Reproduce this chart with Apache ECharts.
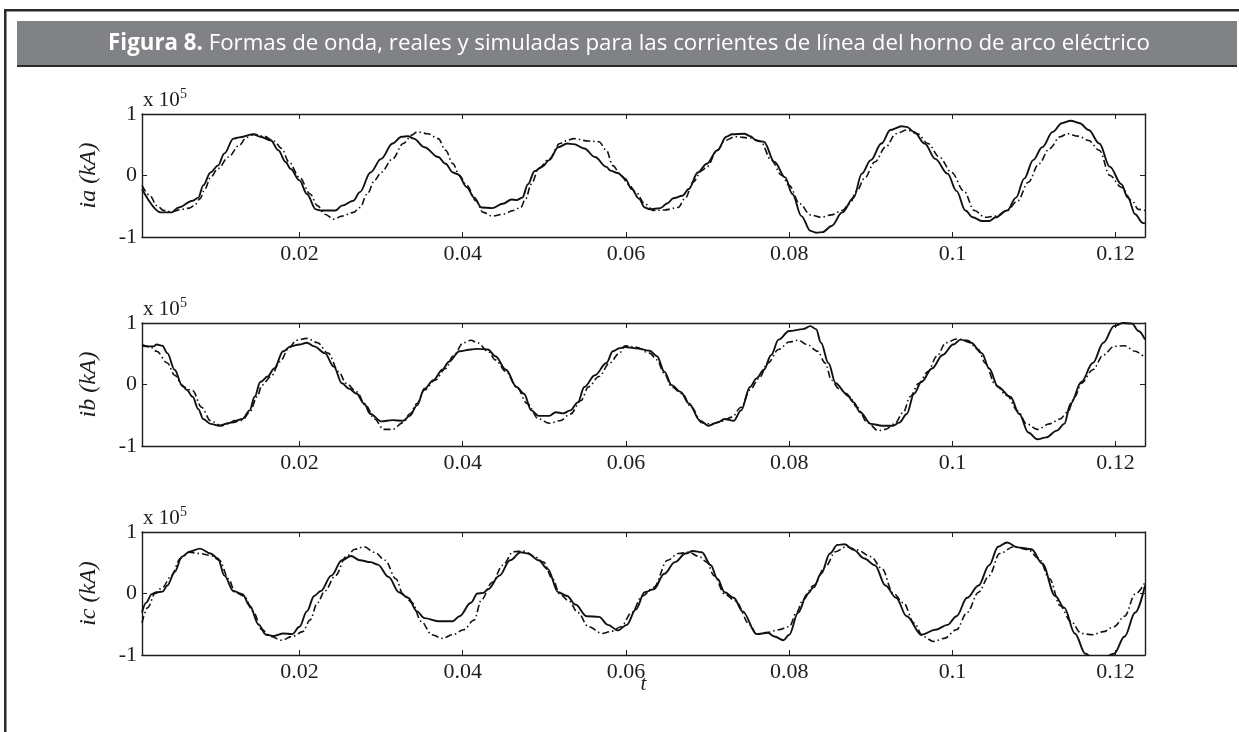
<!DOCTYPE html>
<html>
<head>
<meta charset="utf-8">
<script src="https://cdn.jsdelivr.net/npm/echarts@6/dist/echarts.min.js"></script>
<style>
html,body{margin:0;padding:0;background:#fff;}
#chart{width:1239px;height:732px;}
</style>
</head>
<body>
<div id="chart"></div>
<script>
// ---------------- DATA ----------------
const titleBold = 'Figura 8.';
const titleRest = ' Formas de onda, reales y simuladas para las corrientes de línea del horno de arco eléctrico';
const panelNames = ['ia (kA)', 'ib (kA)', 'ic (kA)'];
const xAxisName = 't';
const xTickValues = [0.02, 0.04, 0.06, 0.08, 0.1, 0.12];
const xTickLabels = ['0.02', '0.04', '0.06', '0.08', '0.1', '0.12'];
const yTickLabels = ['-1', '0', '1'];
const xRange = [0.0007, 0.1236];
const yRange = [-1, 1];

// real (solid) and simulated (dash-dot) line currents, x 10^5, pairs [t, value]
const iaReal = [[0.0007,-0.22],[0.0030,-0.60],[0.0043,-0.60],[0.0052,-0.52],[0.0069,-0.41],[0.0076,-0.36],[0.0082,-0.16],[0.0091,0.05],[0.0100,0.16],[0.0108,0.36],[0.0119,0.60],[0.0126,0.62],[0.0143,0.67],[0.0152,0.63],[0.0165,0.57],[0.0174,0.41],[0.0183,0.22],[0.0189,0.11],[0.0200,-0.08],[0.0209,-0.30],[0.0220,-0.55],[0.0226,-0.57],[0.0244,-0.57],[0.0252,-0.49],[0.0266,-0.41],[0.0274,-0.27],[0.0287,0.05],[0.0300,0.27],[0.0314,0.52],[0.0325,0.63],[0.0333,0.64],[0.0340,0.60],[0.0353,0.46],[0.0370,0.30],[0.0379,0.19],[0.0388,0.05],[0.0394,0.02],[0.0405,-0.19],[0.0414,-0.36],[0.0423,-0.52],[0.0436,-0.53],[0.0449,-0.46],[0.0460,-0.39],[0.0466,-0.40],[0.0473,-0.36],[0.0480,-0.14],[0.0488,0.07],[0.0497,0.14],[0.0506,0.25],[0.0517,0.46],[0.0528,0.52],[0.0536,0.51],[0.0549,0.44],[0.0562,0.30],[0.0576,0.14],[0.0581,0.08],[0.0590,0.04],[0.0599,-0.05],[0.0607,-0.22],[0.0616,-0.38],[0.0623,-0.52],[0.0629,-0.55],[0.0642,-0.53],[0.0651,-0.45],[0.0658,-0.37],[0.0669,-0.33],[0.0677,-0.22],[0.0688,0.05],[0.0699,0.19],[0.0712,0.41],[0.0723,0.63],[0.0730,0.67],[0.0745,0.68],[0.0752,0.64],[0.0760,0.57],[0.0769,0.55],[0.0782,0.22],[0.0795,-0.03],[0.0804,-0.30],[0.0815,-0.66],[0.0826,-0.90],[0.0833,-0.93],[0.0841,-0.92],[0.0852,-0.82],[0.0865,-0.60],[0.0879,-0.36],[0.0889,0.03],[0.0900,0.25],[0.0913,0.52],[0.0924,0.74],[0.0938,0.80],[0.0944,0.79],[0.0953,0.71],[0.0966,0.52],[0.0979,0.27],[0.0994,0.03],[0.1005,-0.25],[0.1016,-0.57],[0.1025,-0.68],[0.1036,-0.74],[0.1045,-0.74],[0.1053,-0.68],[0.1067,-0.57],[0.1078,-0.36],[0.1088,-0.05],[0.1099,0.25],[0.1110,0.46],[0.1123,0.71],[0.1134,0.85],[0.1145,0.89],[0.1156,0.85],[0.1167,0.74],[0.1180,0.52],[0.1193,0.14],[0.1207,-0.14],[0.1215,-0.36],[0.1224,-0.63],[0.1233,-0.77],[0.1236,-0.78]];
const iaSim = [[0.0007,-0.16],[0.0017,-0.33],[0.0025,-0.49],[0.0034,-0.57],[0.0043,-0.59],[0.0056,-0.55],[0.0065,-0.53],[0.0071,-0.49],[0.0078,-0.38],[0.0084,-0.22],[0.0091,-0.03],[0.0100,0.11],[0.0113,0.30],[0.0126,0.49],[0.0135,0.62],[0.0145,0.67],[0.0156,0.64],[0.0169,0.56],[0.0178,0.44],[0.0187,0.22],[0.0200,-0.03],[0.0213,-0.30],[0.0222,-0.49],[0.0231,-0.63],[0.0242,-0.71],[0.0252,-0.66],[0.0266,-0.60],[0.0274,-0.52],[0.0283,-0.30],[0.0292,-0.08],[0.0300,0.05],[0.0314,0.27],[0.0327,0.52],[0.0338,0.66],[0.0344,0.71],[0.0357,0.68],[0.0370,0.60],[0.0379,0.41],[0.0388,0.19],[0.0396,0.00],[0.0405,-0.16],[0.0416,-0.41],[0.0425,-0.60],[0.0436,-0.66],[0.0449,-0.63],[0.0462,-0.57],[0.0471,-0.52],[0.0477,-0.38],[0.0484,-0.14],[0.0493,0.11],[0.0506,0.27],[0.0519,0.52],[0.0528,0.57],[0.0536,0.60],[0.0554,0.56],[0.0567,0.55],[0.0576,0.41],[0.0584,0.16],[0.0594,0.00],[0.0603,-0.14],[0.0612,-0.27],[0.0623,-0.46],[0.0634,-0.57],[0.0647,-0.56],[0.0664,-0.52],[0.0673,-0.36],[0.0682,-0.11],[0.0693,0.08],[0.0699,0.14],[0.0712,0.41],[0.0721,0.57],[0.0734,0.63],[0.0752,0.61],[0.0765,0.55],[0.0778,0.25],[0.0791,0.00],[0.0800,-0.16],[0.0813,-0.46],[0.0826,-0.64],[0.0839,-0.68],[0.0852,-0.64],[0.0865,-0.57],[0.0874,-0.46],[0.0883,-0.25],[0.0892,-0.05],[0.0905,0.22],[0.0918,0.46],[0.0931,0.68],[0.0944,0.74],[0.0957,0.68],[0.0970,0.52],[0.0984,0.30],[0.0999,0.05],[0.1014,-0.25],[0.1027,-0.57],[0.1040,-0.68],[0.1053,-0.66],[0.1067,-0.57],[0.1080,-0.41],[0.1093,-0.11],[0.1106,0.19],[0.1119,0.44],[0.1132,0.63],[0.1141,0.68],[0.1154,0.64],[0.1167,0.57],[0.1180,0.41],[0.1193,0.00],[0.1207,-0.19],[0.1220,-0.41],[0.1228,-0.55],[0.1236,-0.57]];
const ibReal = [[0.0007,0.63],[0.0015,0.62],[0.0021,0.62],[0.0025,0.65],[0.0032,0.63],[0.0038,0.51],[0.0047,0.24],[0.0056,-0.01],[0.0062,-0.09],[0.0069,-0.20],[0.0076,-0.40],[0.0082,-0.56],[0.0091,-0.64],[0.0102,-0.67],[0.0113,-0.63],[0.0121,-0.59],[0.0130,-0.56],[0.0139,-0.42],[0.0145,-0.20],[0.0152,0.04],[0.0161,0.13],[0.0169,0.26],[0.0180,0.54],[0.0189,0.62],[0.0200,0.65],[0.0209,0.68],[0.0218,0.62],[0.0231,0.51],[0.0242,0.29],[0.0252,0.02],[0.0261,-0.07],[0.0270,-0.15],[0.0279,-0.31],[0.0287,-0.48],[0.0300,-0.60],[0.0314,-0.58],[0.0327,-0.59],[0.0335,-0.51],[0.0344,-0.34],[0.0353,-0.07],[0.0364,0.07],[0.0375,0.24],[0.0383,0.37],[0.0396,0.54],[0.0410,0.57],[0.0418,0.58],[0.0431,0.57],[0.0440,0.46],[0.0453,0.24],[0.0466,-0.04],[0.0475,-0.15],[0.0484,-0.42],[0.0493,-0.51],[0.0506,-0.51],[0.0514,-0.45],[0.0523,-0.47],[0.0532,-0.42],[0.0541,-0.29],[0.0549,-0.04],[0.0562,0.15],[0.0576,0.35],[0.0584,0.54],[0.0592,0.59],[0.0599,0.61],[0.0612,0.59],[0.0629,0.55],[0.0638,0.46],[0.0647,0.21],[0.0656,-0.01],[0.0667,-0.12],[0.0677,-0.31],[0.0691,-0.59],[0.0701,-0.67],[0.0712,-0.62],[0.0721,-0.56],[0.0732,-0.59],[0.0741,-0.42],[0.0752,-0.04],[0.0760,0.10],[0.0769,0.24],[0.0778,0.48],[0.0787,0.73],[0.0800,0.87],[0.0817,0.90],[0.0826,0.95],[0.0833,0.90],[0.0839,0.68],[0.0848,0.35],[0.0857,0.02],[0.0870,-0.15],[0.0879,-0.29],[0.0887,-0.45],[0.0900,-0.64],[0.0914,-0.67],[0.0927,-0.67],[0.0935,-0.62],[0.0944,-0.48],[0.0953,-0.15],[0.0962,0.04],[0.0975,0.26],[0.0988,0.48],[0.1001,0.65],[0.1010,0.73],[0.1023,0.68],[0.1036,0.51],[0.1045,0.26],[0.1056,-0.04],[0.1071,-0.20],[0.1082,-0.48],[0.1093,-0.78],[0.1104,-0.89],[0.1115,-0.86],[0.1128,-0.75],[0.1137,-0.64],[0.1145,-0.31],[0.1158,0.04],[0.1172,0.35],[0.1185,0.68],[0.1198,0.95],[0.1209,1.00],[0.1220,0.99],[0.1228,0.87],[0.1236,0.73]];
const ibSim = [[0.0007,0.65],[0.0017,0.61],[0.0025,0.54],[0.0038,0.35],[0.0047,0.15],[0.0058,-0.04],[0.0069,-0.10],[0.0080,-0.37],[0.0091,-0.59],[0.0104,-0.67],[0.0117,-0.62],[0.0130,-0.58],[0.0139,-0.45],[0.0148,-0.20],[0.0154,-0.01],[0.0165,0.13],[0.0176,0.37],[0.0187,0.59],[0.0196,0.72],[0.0209,0.75],[0.0222,0.68],[0.0235,0.51],[0.0248,0.21],[0.0257,0.02],[0.0270,-0.12],[0.0281,-0.34],[0.0292,-0.56],[0.0303,-0.73],[0.0314,-0.73],[0.0327,-0.62],[0.0335,-0.48],[0.0344,-0.31],[0.0353,-0.09],[0.0366,0.07],[0.0379,0.26],[0.0388,0.46],[0.0401,0.68],[0.0410,0.72],[0.0418,0.68],[0.0431,0.54],[0.0440,0.40],[0.0453,0.21],[0.0466,-0.04],[0.0479,-0.31],[0.0493,-0.56],[0.0506,-0.63],[0.0519,-0.59],[0.0532,-0.48],[0.0545,-0.26],[0.0554,-0.04],[0.0567,0.13],[0.0580,0.35],[0.0592,0.51],[0.0599,0.63],[0.0612,0.61],[0.0629,0.51],[0.0638,0.40],[0.0647,0.18],[0.0656,-0.04],[0.0669,-0.15],[0.0680,-0.37],[0.0693,-0.62],[0.0704,-0.64],[0.0717,-0.60],[0.0730,-0.53],[0.0741,-0.37],[0.0752,-0.09],[0.0763,0.10],[0.0774,0.35],[0.0787,0.57],[0.0800,0.69],[0.0811,0.72],[0.0822,0.65],[0.0835,0.54],[0.0844,0.35],[0.0852,0.07],[0.0861,-0.07],[0.0874,-0.20],[0.0883,-0.37],[0.0896,-0.62],[0.0909,-0.75],[0.0918,-0.73],[0.0929,-0.64],[0.0940,-0.45],[0.0948,-0.20],[0.0959,0.02],[0.0970,0.21],[0.0981,0.46],[0.0992,0.68],[0.1005,0.74],[0.1018,0.72],[0.1032,0.57],[0.1040,0.35],[0.1053,-0.01],[0.1067,-0.18],[0.1080,-0.43],[0.1091,-0.64],[0.1104,-0.73],[0.1119,-0.64],[0.1132,-0.56],[0.1141,-0.45],[0.1150,-0.20],[0.1158,0.02],[0.1172,0.24],[0.1185,0.48],[0.1198,0.62],[0.1211,0.63],[0.1224,0.54],[0.1236,0.43]];
const icReal = [[0.0007,-0.31],[0.0012,-0.15],[0.0019,-0.01],[0.0025,0.02],[0.0032,0.03],[0.0038,0.13],[0.0047,0.35],[0.0056,0.60],[0.0065,0.68],[0.0078,0.73],[0.0091,0.65],[0.0100,0.57],[0.0108,0.29],[0.0119,0.04],[0.0130,-0.01],[0.0139,-0.20],[0.0150,-0.51],[0.0159,-0.67],[0.0169,-0.69],[0.0180,-0.65],[0.0191,-0.66],[0.0200,-0.54],[0.0209,-0.29],[0.0218,-0.04],[0.0226,0.04],[0.0239,0.29],[0.0252,0.54],[0.0263,0.61],[0.0274,0.54],[0.0287,0.51],[0.0296,0.47],[0.0309,0.27],[0.0322,0.02],[0.0333,-0.07],[0.0344,-0.29],[0.0353,-0.40],[0.0370,-0.45],[0.0388,-0.45],[0.0396,-0.37],[0.0410,-0.15],[0.0418,0.00],[0.0425,0.01],[0.0431,0.07],[0.0445,0.29],[0.0458,0.54],[0.0471,0.67],[0.0480,0.65],[0.0493,0.54],[0.0504,0.40],[0.0517,0.02],[0.0528,-0.04],[0.0538,-0.18],[0.0552,-0.37],[0.0567,-0.38],[0.0578,-0.51],[0.0590,-0.60],[0.0601,-0.51],[0.0612,-0.26],[0.0623,0.02],[0.0634,0.07],[0.0647,0.32],[0.0660,0.51],[0.0673,0.65],[0.0682,0.69],[0.0693,0.67],[0.0704,0.46],[0.0712,0.24],[0.0721,0.02],[0.0732,-0.07],[0.0743,-0.29],[0.0760,-0.66],[0.0774,-0.64],[0.0782,-0.70],[0.0793,-0.76],[0.0800,-0.67],[0.0811,-0.31],[0.0822,-0.01],[0.0830,0.10],[0.0839,0.32],[0.0850,0.65],[0.0859,0.79],[0.0868,0.80],[0.0879,0.71],[0.0892,0.57],[0.0905,0.46],[0.0918,0.13],[0.0931,-0.07],[0.0944,-0.37],[0.0962,-0.67],[0.0979,-0.59],[0.0994,-0.51],[0.1005,-0.37],[0.1018,-0.07],[0.1032,0.13],[0.1045,0.46],[0.1056,0.76],[0.1067,0.83],[0.1080,0.75],[0.1097,0.72],[0.1110,0.49],[0.1126,-0.04],[0.1137,-0.23],[0.1150,-0.65],[0.1163,-0.98],[0.1172,-1.05],[0.1185,-1.05],[0.1198,-0.98],[0.1211,-0.70],[0.1224,-0.31],[0.1236,0.13]];
const icSim = [[0.0007,-0.48],[0.0014,-0.23],[0.0023,0.00],[0.0032,0.10],[0.0043,0.29],[0.0054,0.57],[0.0065,0.67],[0.0078,0.65],[0.0091,0.62],[0.0102,0.54],[0.0113,0.24],[0.0121,0.02],[0.0132,-0.04],[0.0143,-0.29],[0.0154,-0.59],[0.0165,-0.70],[0.0178,-0.76],[0.0191,-0.70],[0.0204,-0.62],[0.0213,-0.43],[0.0222,-0.15],[0.0231,0.04],[0.0244,0.29],[0.0257,0.60],[0.0268,0.72],[0.0279,0.76],[0.0292,0.67],[0.0305,0.54],[0.0318,0.24],[0.0327,-0.01],[0.0338,-0.15],[0.0349,-0.45],[0.0362,-0.67],[0.0375,-0.73],[0.0388,-0.67],[0.0401,-0.59],[0.0414,-0.43],[0.0423,-0.10],[0.0436,0.18],[0.0449,0.46],[0.0462,0.68],[0.0475,0.69],[0.0488,0.60],[0.0499,0.51],[0.0510,0.24],[0.0519,-0.01],[0.0530,-0.12],[0.0541,-0.31],[0.0554,-0.54],[0.0571,-0.65],[0.0581,-0.62],[0.0594,-0.54],[0.0607,-0.31],[0.0620,-0.04],[0.0634,0.10],[0.0651,0.54],[0.0664,0.65],[0.0677,0.67],[0.0690,0.60],[0.0699,0.51],[0.0708,0.29],[0.0721,-0.01],[0.0734,-0.12],[0.0752,-0.51],[0.0760,-0.66],[0.0774,-0.63],[0.0787,-0.59],[0.0800,-0.54],[0.0809,-0.31],[0.0817,-0.10],[0.0830,0.13],[0.0844,0.43],[0.0857,0.68],[0.0870,0.76],[0.0883,0.71],[0.0900,0.60],[0.0914,0.40],[0.0927,0.01],[0.0940,-0.15],[0.0953,-0.48],[0.0964,-0.70],[0.0977,-0.78],[0.0990,-0.73],[0.1005,-0.59],[0.1018,-0.31],[0.1032,0.02],[0.1045,0.29],[0.1058,0.65],[0.1075,0.76],[0.1093,0.71],[0.1106,0.57],[0.1119,0.24],[0.1132,-0.20],[0.1145,-0.45],[0.1158,-0.65],[0.1172,-0.67],[0.1185,-0.62],[0.1198,-0.54],[0.1211,-0.37],[0.1224,-0.01],[0.1236,0.18]];

// ---------------- LAYOUT ----------------
const W = 1239, H = 732;
const gridLeft = 142, gridRight = 94, gridH = 123;
const gridTops = [114, 323, 532];
const serif = '"Liberation Serif", "Times New Roman", serif';
const ink = '#1e1e1e';

const chart = echarts.init(document.getElementById('chart'), null, {renderer: 'canvas', width: W, height: H});

const grids = [], xAxes = [], yAxes = [], series = [];
const realSets = [iaReal, ibReal, icReal];
const simSets = [iaSim, ibSim, icSim];
const fmtX = v => { const i = xTickValues.findIndex(t => Math.abs(t - v) < 1e-9); return i >= 0 ? xTickLabels[i] : ''; };
const fmtY = v => yTickLabels[Math.round(v) + 1];

gridTops.forEach((top, i) => {
  grids.push({left: gridLeft, right: gridRight, top: top, height: gridH, containLabel: false});
  // bottom x axis
  xAxes.push({
    gridIndex: i, type: 'value', position: 'bottom', min: xRange[0], max: xRange[1],
    name: i === 2 ? xAxisName : '', nameLocation: 'middle', nameGap: 19, nameMoveOverlap: false,
    nameTextStyle: {fontFamily: serif, fontStyle: 'italic', fontSize: 21, color: ink},
    axisLine: {onZero: false, lineStyle: {color: ink, width: 1.4}},
    axisTick: {inside: true, length: 5, customValues: xTickValues, lineStyle: {color: ink, width: 1}},
    axisLabel: {customValues: xTickValues, formatter: fmtX, fontFamily: serif, fontSize: 22, color: ink, margin: 6},
    splitLine: {show: false}
  });
  // top x axis (box + ticks)
  xAxes.push({
    gridIndex: i, type: 'value', position: 'top', min: xRange[0], max: xRange[1],
    axisLine: {onZero: false, lineStyle: {color: ink, width: 1.4}},
    axisTick: {inside: true, length: 5, customValues: xTickValues, lineStyle: {color: ink, width: 1}},
    axisLabel: {show: false}, splitLine: {show: false}
  });
  // left y axis
  yAxes.push({
    gridIndex: i, type: 'value', position: 'left', min: yRange[0], max: yRange[1], interval: 1,
    name: panelNames[i], nameLocation: 'middle', nameGap: 41, nameRotate: 90, nameMoveOverlap: false,
    nameTextStyle: {fontFamily: serif, fontStyle: 'italic', fontSize: 24, color: ink},
    axisLine: {onZero: false, lineStyle: {color: ink, width: 1.4}},
    axisTick: {inside: true, length: 5, lineStyle: {color: ink, width: 1}},
    axisLabel: {formatter: fmtY, fontFamily: serif, fontSize: 22, color: ink, margin: 5},
    splitLine: {show: false}
  });
  // right y axis
  yAxes.push({
    gridIndex: i, type: 'value', position: 'right', min: yRange[0], max: yRange[1], interval: 1,
    axisLine: {onZero: false, lineStyle: {color: ink, width: 1.4}},
    axisTick: {inside: true, length: 5, lineStyle: {color: ink, width: 1}},
    axisLabel: {show: false}, splitLine: {show: false}
  });
  series.push({
    type: 'line', name: 'real', xAxisIndex: 2 * i, yAxisIndex: 2 * i,
    data: realSets[i], showSymbol: false, smooth: 0.35, smoothMonotone: 'x', clip: true,
    lineStyle: {color: '#111', width: 1.9, type: 'solid'}, z: 3
  });
  series.push({
    type: 'line', name: 'sim', xAxisIndex: 2 * i, yAxisIndex: 2 * i,
    data: simSets[i], showSymbol: false, smooth: 0.35, smoothMonotone: 'x', clip: true,
    lineStyle: {color: '#111', width: 1.6, type: [7, 3, 1.5, 3]}, z: 2
  });
});

// frame, header and "x 10^5" exponents
const graphic = [
  {type: 'rect', shape: {x: 4, y: 9, width: W - 4, height: 2.5}, style: {fill: '#2b2b2b'}, silent: true},
  {type: 'rect', shape: {x: 4, y: 9, width: 2.5, height: H - 9}, style: {fill: '#2b2b2b'}, silent: true},
  {type: 'rect', shape: {x: 17, y: 64, width: W - 19, height: 3}, style: {fill: '#2a2a2a'}, silent: true},
  {type: 'rect', shape: {x: 17, y: 21, width: W - 19, height: 44}, style: {fill: '#818286'}, silent: true},
  {type: 'text', x: 629, y: 44, silent: true,
   style: {text: '{b|' + titleBold + '}{r|' + titleRest + '}', align: 'center', verticalAlign: 'middle',
           rich: {b: {fontFamily: '"Open Sans"', fontWeight: 'bold', fontSize: 22.3, fill: '#fff'},
                  r: {fontFamily: '"Open Sans"', fontSize: 22.3, fill: '#fff'}}}}
];
gridTops.forEach(top => {
  graphic.push({type: 'text', x: gridLeft + 1, y: top - 3, silent: true,
    style: {text: 'x 10', fontFamily: serif, fontSize: 21, fill: ink, verticalAlign: 'bottom'}});
  graphic.push({type: 'text', x: gridLeft + 38, y: top - 13, silent: true,
    style: {text: '5', fontFamily: serif, fontSize: 14, fill: ink, verticalAlign: 'bottom'}});
});

chart.setOption({
  animation: false,
  backgroundColor: '#fff',
  grid: grids,
  xAxis: xAxes,
  yAxis: yAxes,
  series: series,
  graphic: graphic
});
</script>
</body>
</html>
